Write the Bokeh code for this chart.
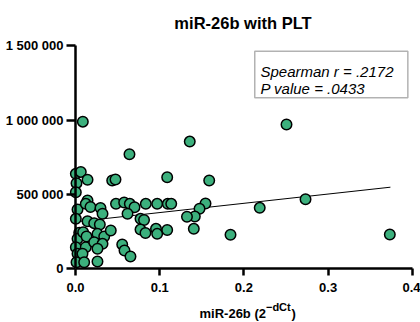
from bokeh.plotting import figure
from bokeh.models import Range1d, Label, FixedTicker, BoxAnnotation
from bokeh.embed import file_html
from bokeh.resources import INLINE

# ---- data ----
mir26b = [0.0087, 0.0004, 0.0063, 0.0012, 0.0004, 0.0024, 0.0004, 0.0044, 0.0024, 0.0004,
          0.0024, 0.0012, 0.0143, 0.0091, 0.0143, 0.0131, 0.0122, 0.0083, 0.0103, 0.0143,
          0.0122, 0.0178, 0.0222, 0.0289, 0.0261, 0.0341, 0.0419, 0.0222, 0.0321, 0.0261,
          0.0261, 0.0297, 0.0321, 0.0436, 0.0475, 0.0641, 0.0481, 0.0578, 0.0645, 0.0701,
          0.0618, 0.0555, 0.0582, 0.0653, 0.0772, 0.0814, 0.0772, 0.0831, 0.0835, 0.0970,
          0.0956, 0.0970, 0.1089, 0.1096, 0.1137, 0.1089, 0.1357, 0.1588, 0.1544, 0.1473,
          0.1417, 0.1324, 0.1405, 0.1841, 0.2188, 0.2506, 0.2732, 0.3733]
plt_count = [990000, 639000, 652000, 576000, 515000, 399000, 336000, 242000, 202000, 145000,
             101000, 44000, 599000, 246000, 320000, 217000, 145000, 101000, 44000, 460000,
             437000, 416000, 307000, 298000, 235000, 217000, 258000, 179000, 168000, 135000,
             49000, 409000, 370000, 594000, 601000, 771000, 437000, 446000, 437000, 414000,
             370000, 164000, 123000, 83000, 336000, 328000, 264000, 241000, 437000, 437000,
             269000, 235000, 261000, 437000, 437000, 616000, 856000, 594000, 439000, 404000,
             352000, 350000, 269000, 229000, 410000, 971000, 468000, 231000]
fit_x = [0.0, 0.374]
fit_y = [316000, 549000]

x_ticks = [0.0, 0.1, 0.2, 0.3, 0.4]
x_tick_labels = ["0.0", "0.1", "0.2", "0.3", "0.4"]
y_ticks = [0, 500000, 1000000, 1500000]
y_tick_labels = ["0", "500 000", "1 000 000", "1 500 000"]

title_text = "miR-26b with PLT"
stats_line1 = "Spearman r = .2172"
stats_line2 = "P value = .0433"
xlabel_main = "miR-26b (2"
xlabel_sup = "\u2212dCt"
xlabel_close = ")"

FONT = "Liberation Sans"
GREEN = "#3CB07D"

# The frame covers the whole canvas; both axes are pinned at 0 inside it.
p = figure(width=420, height=322, output_backend="svg", toolbar_location=None, title=None,
           x_range=Range1d(-0.08907, 0.40974), y_range=Range1d(-361200, 1804900),
           min_border=0)
p.outline_line_color = None
p.xgrid.visible = False
p.ygrid.visible = False
p.background_fill_color = "white"
p.border_fill_color = "white"

yax = p.yaxis[0]
yax.fixed_location = 0
yax.bounds = (0, 1500000)
yax.ticker = FixedTicker(ticks=y_ticks)
yax.major_label_overrides = dict(zip(y_ticks, y_tick_labels))
yax.minor_tick_line_color = None
yax.major_tick_in = 0
yax.major_tick_out = 9
yax.major_label_standoff = 3
yax.axis_line_width = 2.5
yax.major_tick_line_width = 2.5
yax.axis_line_color = "black"
yax.major_tick_line_color = "black"
yax.major_label_text_font = FONT
yax.major_label_text_font_size = "13px"
yax.major_label_text_font_style = "bold"
yax.major_label_text_color = "black"

xax = p.xaxis[0]
xax.fixed_location = 0
xax.bounds = (0, 0.4)
xax.ticker = FixedTicker(ticks=x_ticks)
xax.major_label_overrides = dict(zip(x_ticks, x_tick_labels))
xax.minor_tick_line_color = None
xax.major_tick_in = 0
xax.major_tick_out = 7
xax.major_label_standoff = 7
xax.axis_line_width = 2.5
xax.major_tick_line_width = 2.5
xax.axis_line_color = "black"
xax.major_tick_line_color = "black"
xax.major_label_text_font = FONT
xax.major_label_text_font_size = "13px"
xax.major_label_text_font_style = "bold"
xax.major_label_text_color = "black"

p.line(fit_x, fit_y, line_color="black", line_width=1)
p.scatter(mir26b, plt_count, size=10.5, fill_color=GREEN, line_color="black", line_width=1.5)

lab_kw = dict(text_font=FONT, text_font_style="bold", text_color="black",
              text_baseline="alphabetic")
# title
p.add_layout(Label(x=0.1989, y=1656900, text=title_text, text_font_size="16.5px",
                   text_align="center", **lab_kw))
# x axis label with superscript
p.add_layout(Label(x=0.1473, y=-300700, text=xlabel_main, text_font_size="13px",
                   text_align="left", **lab_kw))
p.add_layout(Label(x=0.2262, y=-257000, text=xlabel_sup, text_font_size="11px",
                   text_align="left", **lab_kw))
p.add_layout(Label(x=0.2565, y=-300700, text=xlabel_close, text_font_size="13px",
                   text_align="left", **lab_kw))

# statistics box
p.add_layout(BoxAnnotation(left=0.2129, right=0.3947, bottom=1150300, top=1463800,
                           fill_color="white", fill_alpha=1.0,
                           line_color="black", line_width=1.5))
st_kw = dict(text_font=FONT, text_font_style="italic", text_font_size="15px",
             text_color="black", text_align="left", text_baseline="alphabetic")
p.add_layout(Label(x=0.2197, y=1329300, text=stats_line1, **st_kw))
p.add_layout(Label(x=0.2197, y=1210900, text=stats_line2, **st_kw))

open("out.html", "w").write(file_html(p, INLINE))
